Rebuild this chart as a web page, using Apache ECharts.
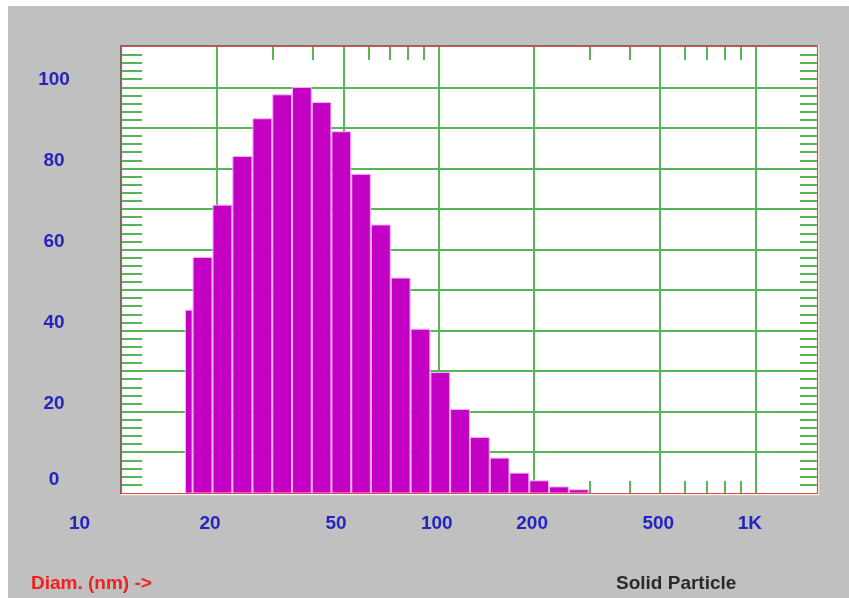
<!DOCTYPE html>
<html>
<head>
<meta charset="utf-8">
<script src="https://cdn.jsdelivr.net/npm/echarts@6/dist/echarts.min.js"></script>
<style>
  html, body { margin: 0; padding: 0; background: #ffffff; }
  #chart { width: 849px; height: 598px; }
</style>
</head>
<body>
<div id="chart"></div>
<script>
// Particle size distribution (log diameter axis)
const binEdges = [15.8, 16.7, 19.3, 22.3, 25.8, 29.8, 34.4, 39.7, 45.8, 52.9, 61.0,
                  70.5, 81.4, 94.0, 108.5, 125.3, 144.7, 167.0, 192.9, 222.7, 257.1, 296.9];
const binValues = [45.1, 58.1, 71.0, 83.0, 92.3, 98.2, 100, 96.3, 89.1, 78.6, 66.1,
                   53.0, 40.4, 29.7, 20.6, 13.7, 8.6, 4.9, 3.0, 1.5, 0.8];

const xLabelValues = [10, 20, 50, 100, 200, 500, 1000];
const xLabelTexts = ['10', '20', '50', '100', '200', '500', '1K'];
const yLabelValues = [0, 20, 40, 60, 80, 100];

const xMajorGrid = [20, 50, 100, 200, 500, 1000];
const xMinorTicks = [30, 40, 60, 70, 80, 90, 300, 400, 600, 700, 800, 900];
const yMajorGrid = [10, 20, 30, 40, 50, 60, 70, 80, 90, 100];
const yMinorStep = 2;

const X_MIN = 10, X_MAX = 1560, Y_MIN = 0, Y_MAX = 110;

const yMinorTicks = [];
for (let v = Y_MIN + yMinorStep; v < Y_MAX; v += yMinorStep) {
  if (v % 10 !== 0) yMinorTicks.push(v);
}

const GREEN = '#55b855';
const BLUE = '#2424c0';
const FONT = 'bold 19px "Liberation Sans", Arial, sans-serif';

const chart = echarts.init(document.getElementById('chart'), null, { renderer: 'canvas' });

function crisp(v) { return Math.round(v); }

const option = {
  animation: false,
  backgroundColor: '#ffffff',
  grid: {
    left: 122, top: 47, right: 32, bottom: 105,
    show: true, backgroundColor: '#ffffff', borderWidth: 0
  },
  xAxis: {
    type: 'log', logBase: 10, min: X_MIN, max: X_MAX,
    axisLine: { show: false }, axisTick: { show: false },
    axisLabel: { show: false }, splitLine: { show: false }, minorTick: { show: false }
  },
  yAxis: {
    type: 'value', min: Y_MIN, max: Y_MAX, interval: 10,
    axisLine: { show: false }, axisTick: { show: false },
    axisLabel: { show: false }, splitLine: { show: false }
  },
  graphic: [
    // window background
    { type: 'rect', z: -10, shape: { x: 8, y: 6, width: 841, height: 592 }, style: { fill: '#c0c0c0' }, silent: true },
    // sunken frame around the plot
    { type: 'line', z: 100, shape: { x1: 120.5, y1: 45, x2: 120.5, y2: 494 }, style: { stroke: '#6a6a6a', lineWidth: 1 } },
    { type: 'line', z: 100, shape: { x1: 120, y1: 45.5, x2: 818, y2: 45.5 }, style: { stroke: '#5a7a7a', lineWidth: 1 } },
    { type: 'line', z: 100, shape: { x1: 121, y1: 494.5, x2: 819, y2: 494.5 }, style: { stroke: '#f4f4f4', lineWidth: 1.5 } },
    { type: 'line', z: 100, shape: { x1: 818.5, y1: 45, x2: 818.5, y2: 495 }, style: { stroke: '#f4f4f4', lineWidth: 1.5 } },
    { type: 'rect', z: 100, shape: { x: 121.5, y: 46.5, width: 696, height: 447 },
      style: { fill: 'none', stroke: '#f04444', lineWidth: 1.2 } },
    // captions
    { type: 'text', z: 100, style: { x: 31, y: 584, text: 'Diam. (nm) ->', fill: '#f02020', font: FONT, align: 'left', verticalAlign: 'middle' } },
    { type: 'text', z: 100, style: { x: 616, y: 584, text: 'Solid Particle', fill: '#2a2a2a', font: FONT, align: 'left', verticalAlign: 'middle' } }
  ],
  series: [
    {
      // vertical grid lines
      type: 'custom', z: 1, clip: false, silent: true,
      data: xMajorGrid.map(v => [v, 0]),
      encode: { x: 0, y: 1 },
      renderItem(params, api) {
        const cs = params.coordSys;
        const x = crisp(api.coord([api.value(0), 0])[0]);
        return { type: 'line', shape: { x1: x, y1: cs.y, x2: x, y2: cs.y + cs.height },
                 style: { stroke: GREEN, lineWidth: 2 } };
      }
    },
    {
      // short minor ticks along top and bottom edges
      type: 'custom', z: 1, clip: false, silent: true,
      data: xMinorTicks.map(v => [v, 0]),
      encode: { x: 0, y: 1 },
      renderItem(params, api) {
        const cs = params.coordSys;
        const x = crisp(api.coord([api.value(0), 0])[0]);
        return { type: 'group', children: [
          { type: 'line', shape: { x1: x, y1: cs.y, x2: x, y2: cs.y + 13 }, style: { stroke: GREEN, lineWidth: 2 } },
          { type: 'line', shape: { x1: x, y1: cs.y + cs.height - 12, x2: x, y2: cs.y + cs.height }, style: { stroke: GREEN, lineWidth: 2 } }
        ] };
      }
    },
    {
      // horizontal grid lines
      type: 'custom', z: 1, clip: false, silent: true,
      data: yMajorGrid.map(v => [X_MIN, v]),
      encode: { x: 0, y: 1 },
      renderItem(params, api) {
        const cs = params.coordSys;
        const y = crisp(api.coord([X_MIN, api.value(1)])[1]);
        return { type: 'line', shape: { x1: cs.x, y1: y, x2: cs.x + cs.width, y2: y },
                 style: { stroke: GREEN, lineWidth: 2 } };
      }
    },
    {
      // minor ticks along left and right edges
      type: 'custom', z: 1, clip: false, silent: true,
      data: yMinorTicks.map(v => [X_MIN, v]),
      encode: { x: 0, y: 1 },
      renderItem(params, api) {
        const cs = params.coordSys;
        const y = crisp(api.coord([X_MIN, api.value(1)])[1]);
        return { type: 'group', children: [
          { type: 'line', shape: { x1: cs.x, y1: y, x2: cs.x + 20, y2: y }, style: { stroke: GREEN, lineWidth: 2 } },
          { type: 'line', shape: { x1: cs.x + cs.width - 17, y1: y, x2: cs.x + cs.width, y2: y }, style: { stroke: GREEN, lineWidth: 2 } }
        ] };
      }
    },
    {
      // histogram bars
      type: 'custom', z: 2, clip: false, silent: true,
      data: binValues.map((v, i) => [binEdges[i], binEdges[i + 1], v]),
      encode: { x: [0, 1], y: 2 },
      renderItem(params, api) {
        const p0 = api.coord([api.value(0), 0]);
        const p1 = api.coord([api.value(1), api.value(2)]);
        const x0 = p0[0] + 0.5, x1 = p1[0] - 0.5;
        return { type: 'rect',
                 shape: { x: x0, y: p1[1], width: x1 - x0, height: p0[1] - p1[1] },
                 style: { fill: '#c400c4', stroke: '#f0b4f0', lineWidth: 1 } };
      }
    },
    {
      // diameter tick labels
      type: 'custom', z: 3, clip: false, silent: true,
      data: xLabelValues.map(v => [v, 0]),
      encode: { x: 0, y: 1 },
      renderItem(params, api) {
        const v = api.value(0);
        const p = api.coord([v, 0]);
        const shift = v === X_MIN ? -53 : -18;
        return { type: 'text',
                 style: { x: p[0] + shift, y: p[1] + 31, text: xLabelTexts[params.dataIndex],
                          fill: BLUE, font: FONT, align: 'left', verticalAlign: 'middle' } };
      }
    },
    {
      // frequency tick labels
      type: 'custom', z: 3, clip: false, silent: true,
      data: yLabelValues.map(v => [X_MIN, v]),
      encode: { x: 0, y: 1 },
      renderItem(params, api) {
        const v = api.value(1);
        const p = api.coord([X_MIN, v]);
        const dy = v === 0 ? -13 : -8;
        return { type: 'text',
                 style: { x: 54, y: p[1] + dy, text: String(v),
                          fill: BLUE, font: FONT, align: 'center', verticalAlign: 'middle' } };
      }
    }
  ]
};

chart.setOption(option);
</script>
</body>
</html>
